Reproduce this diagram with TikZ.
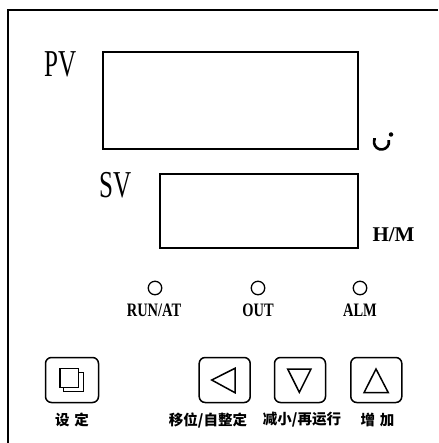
\documentclass[tikz,border=0pt]{standalone}
\usepackage{fontspec}
\setmainfont{Liberation Serif}
\newfontfamily\cjk{Noto Sans CJK SC}
\begin{document}
\begin{tikzpicture}[x=1pt,y=-1pt,
  disp/.style={draw,line width=1.8pt,inner sep=0pt,anchor=north west},
  btn/.style={draw,line width=1.5pt,rounded corners=6pt,inner sep=0pt,minimum width=51pt,minimum height=45pt},
  led/.style={draw,circle,line width=1.3pt,inner sep=0pt,minimum size=13.5pt},
  big/.style={font=\fontsize{38}{38}\selectfont,inner sep=0pt,xscale=0.66},
  ledlbl/.style={font=\bfseries\fontsize{19}{19}\selectfont,inner sep=0pt,xscale=0.76},
  keylbl/.style={font=\cjk\bfseries\fontsize{14.5}{14.5}\selectfont,inner sep=0pt},
  sym/.style={line width=1.5pt,line join=miter}]
\useasboundingbox (0,0) rectangle (438,443);
% frame
\coordinate (ftr) at (438,10);
\coordinate (ftl) at (8,10);
\coordinate (fbl) at (8,443);
\draw[line width=2pt] (ftr) -- (ftl) -- (fbl);
% displays
\node[disp,minimum width=255pt,minimum height=97pt] (pvbox) at (102,51) {};
\node[disp,minimum width=198pt,minimum height=74pt] (svbox) at (159,173) {};
\node[big] (pv) at (61,64) {PV};
\node[big] (sv) at (116,185.5) {SV};
\node[font=\bfseries\fontsize{21}{21}\selectfont,inner sep=0pt] (hm) at (393.5,235) {H/M};
% degree C symbol
\coordinate (degc) at (381.5,142);
\draw[line width=2.6pt] (degc) ++(195:7.5) arc[start angle=195,end angle=-15,radius=7.5];
\draw[line width=3pt] (degc) ++(195:7.5) -- ++(0,-2);
\node[circle,fill,inner sep=0pt,minimum size=4.5pt] (degdot) at (391,134.5) {};
% LEDs
\node[led] (l1) at (155,288) {};
\node[led] (l2) at (258,288) {};
\node[led] (l3) at (360,288) {};
\node[ledlbl] (t1) at (154,310) {RUN/AT};
\node[ledlbl] (t2) at (258,310) {OUT};
\node[ledlbl] (t3) at (360,310) {ALM};
% buttons
\node[btn,minimum width=53pt] (bset) at (72,380) {};
\node[btn] (bleft) at (224.7,380) {};
\node[btn] (bdown) at (300,380) {};
\node[btn] (bup) at (376.3,380) {};
\draw[sym,shift={(bset.center)}] (-12,-11.7) rectangle (6.3,7.3);
\draw[sym,shift={(bset.center)}] (-8.7,7.3) -- (-8.7,11.7) -- (11.3,11.7) -- (11.3,-7.3) -- (6.3,-7.3);
\draw[sym,shift={(bleft.center)}] (-13,0) -- (10.3,-11.7) -- (10.3,12.7) -- cycle;
\draw[sym,shift={(bdown.center)}] (-12.3,-11) -- (11,-11) -- (-0.7,12.3) -- cycle;
\draw[sym,shift={(bup.center)}] (-12.3,12.7) -- (12,12.7) -- (-0.3,-11) -- cycle;
% key labels
\node[keylbl] (k1) at (72,420) {设\hspace{5pt}定};
\node[keylbl] (k2) at (208,420) {移位/自整定};
\node[keylbl] (k3) at (302,420) {减小/再运行};
\node[keylbl] (k4) at (377.5,420) {增\hspace{5pt}加};
\end{tikzpicture}
\end{document}
